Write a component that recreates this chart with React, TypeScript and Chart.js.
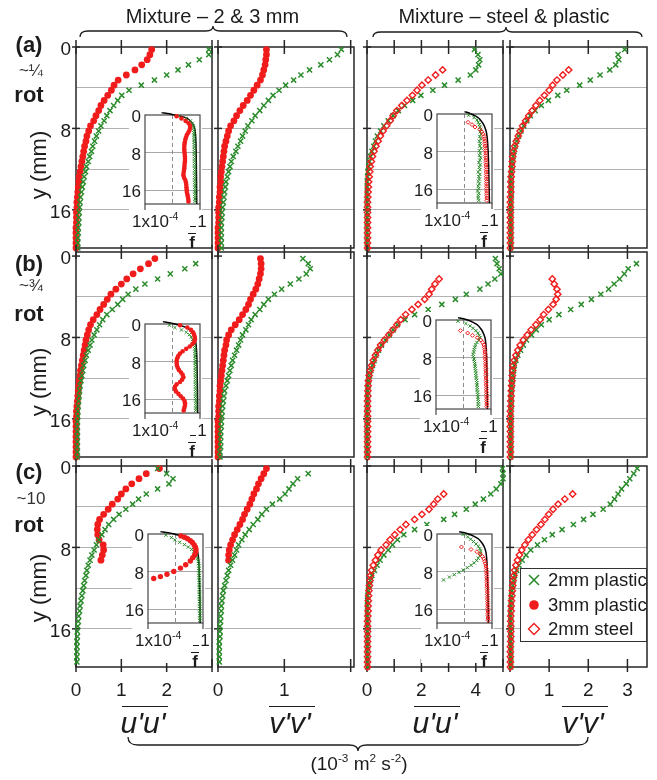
import React, { useEffect, useRef } from 'react';
import { Chart, registerables } from 'chart.js';

Chart.register(...registerables);

const FONT = '"Liberation Sans", Arial, Helvetica, sans-serif';
Chart.defaults.font.family = FONT;

const GREEN = '#2a8b2a';
const RED = '#f01c1c';
const GRID = '#b2b2b2';
const INK = '#1c1c1c';

// ---------------- categories / labels ----------------
const GROUP_TITLES = ['Mixture \u2013 2 & 3 mm', 'Mixture \u2013 steel & plastic'];
const ROW_LETTERS = ['(a)', '(b)', '(c)'];
const ROW_ROTATIONS = ['~\u00bc', '~\u00be', '~10'];
const COLUMN_QUANTITIES = ["u'u'", "v'v'", "u'u'", "v'v'"];
const LEGEND_LABELS = ['2mm plastic', '3mm plastic', '2mm steel'];
const Y_AXIS_TITLE = 'y (mm)';

// ---------------- ticks ----------------
const X_TICKS = [[0, 1, 2, 3], [0, 1, 2], [0, 1, 2, 3, 4, 5], [0, 1, 2, 3]];
const X_TICK_LABELS = [[0, 1, 2], [0, 1], [0, 2, 4], [0, 1, 2, 3]];
const X_MAX = [3.0, 2.05, 5.0, 3.5];
const Y_TICKS = [0, 4, 8, 12, 16];
const Y_TICK_LABELS = [0, 8, 16];
const INSET_X_TICKS = [1e-4, 1e-2, 1];

// ---------------- depths (mm) ----------------
const DEPTH_MM = [0.25, 0.75, 1.25, 1.75, 2.25, 2.75, 3.25, 3.75, 4.25, 4.75, 5.25, 5.75, 6.25, 6.75, 7.25, 7.75, 8.25, 8.75, 9.25, 9.75, 10.25, 10.75, 11.25, 11.75, 12.25, 12.75, 13.25, 13.75, 14.25, 14.75, 15.25, 15.75, 16.25, 16.75, 17.25, 17.75, 18.25, 18.75, 19.25, 19.75];
const INSET_DEPTH_MM = [0.25, 0.75, 1.25, 1.75, 2.25, 2.75, 3.25, 3.75, 4.25, 4.75, 5.25, 5.75, 6.25, 6.75, 7.25, 7.75, 8.25, 8.75, 9.25, 9.75, 10.25, 10.75, 11.25, 11.75, 12.25, 12.75, 13.25, 13.75, 14.25, 14.75, 15.25, 15.75, 16.25, 16.75, 17.25, 17.75, 18.25];
const THEORY_DEPTH_MM = [-0.5, -0.25, 0, 0.5, 1, 2, 3, 4, 6, 10, 14, 18.8];

// ---------------- main panels: row a (~1/4 rot) ----------------
const A1_P3 = [1.67, 1.63, 1.57, 1.45, 1.30, 1.11, 0.93, 0.84, 0.78, 0.70, 0.62, 0.55, 0.50, 0.44, 0.39, 0.32, 0.28, 0.24, 0.22, 0.19, 0.17, 0.15, 0.13, 0.11, 0.09, 0.07, 0.06, 0.05, 0.04, 0.03, 0.02, 0.02, 0.01, 0.01, 0.01, 0.00, 0.00, 0.00, 0.00, 0.00];
const A1_P2 = [2.93, 2.93, 2.72, 2.48, 2.25, 2.00, 1.73, 1.44, 1.17, 1.01, 0.92, 0.83, 0.75, 0.68, 0.62, 0.55, 0.50, 0.45, 0.41, 0.37, 0.34, 0.30, 0.27, 0.23, 0.21, 0.18, 0.16, 0.14, 0.12, 0.10, 0.09, 0.08, 0.07, 0.06, 0.06, 0.05, 0.05, 0.04, 0.04, 0.04];
const A2_P3 = [0.73, 0.73, 0.72, 0.71, 0.69, 0.67, 0.64, 0.59, 0.54, 0.49, 0.44, 0.38, 0.33, 0.28, 0.24, 0.19, 0.16, 0.14, 0.12, 0.10, 0.09, 0.08, 0.07, 0.06, 0.05, 0.04, 0.04, 0.03, 0.03, 0.02, 0.02, 0.01, 0.01, 0.01, 0.01, 0.00, 0.00, 0.00, 0.00, 0.00];
const A2_P2 = [1.86, 1.80, 1.68, 1.55, 1.38, 1.25, 1.14, 1.02, 0.92, 0.83, 0.76, 0.69, 0.63, 0.56, 0.51, 0.45, 0.41, 0.37, 0.34, 0.30, 0.27, 0.23, 0.20, 0.18, 0.16, 0.14, 0.12, 0.11, 0.10, 0.09, 0.08, 0.07, 0.06, 0.06, 0.05, 0.05, 0.05, 0.05, 0.05, 0.05];
const A3_S2 = [null, null, null, null, 2.78, 2.52, 2.25, 2.02, 1.84, 1.67, 1.47, 1.28, 1.10, 0.96, 0.85, 0.72, 0.59, 0.49, 0.41, 0.33, 0.26, 0.20, 0.16, 0.12, 0.10, 0.08, 0.06, 0.05, 0.04, 0.03, 0.02, 0.02, 0.02, 0.02, 0.02, 0.02, 0.02, 0.02, 0.02, 0.02];
const A3_P2 = [3.95, 4.08, 4.15, 4.10, 4.00, 3.80, 3.35, 2.85, 2.42, 1.98, 1.68, 1.38, 1.15, 0.96, 0.78, 0.62, 0.50, 0.38, 0.31, 0.25, 0.18, 0.13, 0.09, 0.06, 0.03, 0.02, 0.01, 0.01, 0.01, 0.01, 0.01, 0.01, 0.01, 0.01, 0.01, 0.01, 0.01, 0.01, 0.01, 0.01];
const A4_S2 = [null, null, null, null, 1.50, 1.35, 1.20, 1.09, 1.00, 0.88, 0.76, 0.66, 0.57, 0.48, 0.40, 0.32, 0.26, 0.21, 0.16, 0.12, 0.09, 0.07, 0.06, 0.05, 0.04, 0.03, 0.02, 0.02, 0.02, 0.01, 0.01, 0.01, 0.01, 0.01, 0.01, 0.01, 0.01, 0.01, 0.01, 0.01];
const A4_P2 = [2.93, 2.76, 2.78, 2.70, 2.55, 2.30, 2.05, 1.78, 1.45, 1.22, 0.98, 0.80, 0.64, 0.52, 0.43, 0.35, 0.28, 0.22, 0.17, 0.13, 0.10, 0.08, 0.06, 0.05, 0.04, 0.03, 0.03, 0.03, 0.03, 0.03, 0.02, 0.02, 0.02, 0.02, 0.02, 0.02, 0.02, 0.02, 0.02, 0.02];

// ---------------- row b (~3/4 rot) ----------------
const B1_P3 = [1.74, 1.60, 1.42, 1.26, 1.12, 1.00, 0.88, 0.77, 0.69, 0.61, 0.53, 0.46, 0.38, 0.32, 0.28, 0.25, 0.22, 0.20, 0.18, 0.16, 0.14, 0.12, 0.10, 0.09, 0.07, 0.06, 0.05, 0.04, 0.03, 0.02, 0.01, 0.01, 0.00, 0.00, 0.00, 0.00, 0.00, 0.00, 0.00, 0.00];
const B1_P2 = [null, 2.64, 2.40, 2.08, 1.80, 1.52, 1.32, 1.15, 1.03, 0.92, 0.80, 0.68, 0.59, 0.52, 0.46, 0.40, 0.35, 0.31, 0.27, 0.23, 0.20, 0.17, 0.15, 0.13, 0.11, 0.09, 0.08, 0.07, 0.06, 0.05, 0.04, 0.04, 0.03, 0.03, 0.03, 0.03, 0.03, 0.03, 0.03, 0.03];
const B2_P3 = [0.64, 0.65, 0.65, 0.64, 0.62, 0.60, 0.57, 0.53, 0.49, 0.46, 0.42, 0.37, 0.32, 0.26, 0.20, 0.16, 0.13, 0.12, 0.10, 0.09, 0.08, 0.07, 0.06, 0.05, 0.04, 0.03, 0.03, 0.02, 0.02, 0.01, 0.01, 0.01, 0.00, 0.00, 0.00, 0.00, 0.00, 0.00, 0.00, 0.00];
const B2_P2 = [1.28, 1.36, 1.39, 1.33, 1.22, 1.09, 0.96, 0.85, 0.76, 0.69, 0.63, 0.56, 0.50, 0.46, 0.42, 0.37, 0.34, 0.31, 0.28, 0.25, 0.22, 0.20, 0.18, 0.16, 0.14, 0.12, 0.10, 0.09, 0.08, 0.07, 0.06, 0.06, 0.05, 0.05, 0.04, 0.04, 0.04, 0.04, 0.03, 0.03];
const B3_S2 = [null, null, null, null, 2.65, 2.50, 2.38, 2.28, 2.12, 1.88, 1.65, 1.42, 1.24, 1.10, 0.95, 0.80, 0.64, 0.50, 0.40, 0.31, 0.23, 0.17, 0.12, 0.08, 0.05, 0.04, 0.03, 0.03, 0.02, 0.02, 0.02, 0.02, 0.02, 0.02, 0.02, 0.02, 0.02, 0.02, 0.02, 0.02];
const B3_P2 = [4.72, 4.78, 4.86, 4.92, 4.70, 4.45, 4.15, 3.65, 3.25, 2.75, 2.25, 1.75, 1.40, 1.12, 0.96, 0.82, 0.67, 0.53, 0.42, 0.33, 0.26, 0.20, 0.14, 0.09, 0.06, 0.04, 0.03, 0.02, 0.02, 0.02, 0.01, 0.01, 0.01, 0.01, 0.01, 0.01, 0.01, 0.01, 0.01, 0.01];
const B4_S2 = [null, null, null, null, 1.08, 1.13, 1.20, 1.22, 1.18, 1.10, 0.98, 0.86, 0.77, 0.66, 0.54, 0.44, 0.34, 0.26, 0.20, 0.15, 0.11, 0.08, 0.07, 0.06, 0.05, 0.04, 0.03, 0.03, 0.02, 0.02, 0.01, 0.01, 0.01, 0.01, 0.01, 0.01, 0.01, 0.01, 0.01, 0.01];
const B4_P2 = [null, 3.23, 3.02, 2.92, 2.80, 2.66, 2.52, 2.32, 2.08, 1.82, 1.55, 1.25, 1.00, 0.80, 0.67, 0.55, 0.42, 0.34, 0.27, 0.20, 0.15, 0.11, 0.09, 0.07, 0.06, 0.05, 0.04, 0.03, 0.03, 0.03, 0.02, 0.02, 0.02, 0.02, 0.02, 0.02, 0.02, 0.02, 0.02, 0.02];

// ---------------- row c (~10 rot) ----------------
const C1_P3 = [1.84, 1.55, 1.39, 1.23, 1.10, 1.00, 0.92, 0.80, 0.71, 0.61, 0.52, 0.48, 0.47, 0.48, 0.51, 0.60, 0.61, 0.58, 0.55];
const C1_P2 = [1.80, 2.00, 2.14, 2.05, 1.80, 1.55, 1.38, 1.25, 1.10, 0.95, 0.83, 0.72, 0.64, 0.57, 0.50, 0.45, 0.40, 0.35, 0.31, 0.27, 0.24, 0.22, 0.19, 0.17, 0.15, 0.13, 0.11, 0.09, 0.08, 0.06, 0.05, 0.04, 0.03, 0.03, 0.02, 0.02, 0.02, 0.02, 0.02];
const C2_P3 = [0.73, 0.69, 0.65, 0.61, 0.58, 0.54, 0.51, 0.48, 0.44, 0.40, 0.37, 0.33, 0.29, 0.25, 0.22, 0.19, 0.17, 0.16, 0.16];
const C2_P2 = [null, 1.36, 1.20, 1.13, 1.07, 1.01, 0.93, 0.82, 0.73, 0.66, 0.60, 0.53, 0.47, 0.41, 0.36, 0.31, 0.28, 0.25, 0.22, 0.19, 0.16, 0.14, 0.12, 0.10, 0.08, 0.07, 0.06, 0.05, 0.05, 0.04, 0.04, 0.03, 0.03, 0.03, 0.02, 0.02, 0.02, 0.02, 0.02];
const C3_S2 = [null, null, null, null, null, 2.82, 2.60, 2.45, 2.28, 2.02, 1.75, 1.43, 1.22, 1.02, 0.85, 0.70, 0.52, 0.40, 0.31, 0.23, 0.17, 0.13, 0.11, 0.09, 0.07, 0.06, 0.05, 0.04, 0.04, 0.03, 0.02, 0.02, 0.02, 0.02, 0.02, 0.02, 0.02, 0.02, 0.02, 0.02];
const C3_P2 = [4.98, 5.00, 5.00, 4.92, 4.75, 4.55, 4.28, 3.98, 3.65, 3.22, 2.82, 2.20, 1.75, 1.35, 1.12, 0.94, 0.78, 0.62, 0.48, 0.37, 0.27, 0.18, 0.12, 0.08, 0.05, 0.03, 0.02, 0.02, 0.02, 0.02, 0.02, 0.02, 0.02, 0.02, 0.02, 0.02, 0.02, 0.02, 0.02, 0.02];
const C4_S2 = [null, null, null, null, null, 1.60, 1.40, 1.23, 1.10, 0.99, 0.89, 0.79, 0.68, 0.57, 0.47, 0.38, 0.30, 0.24, 0.19, 0.15, 0.12, 0.10, 0.08, 0.07, 0.06, 0.05, 0.04, 0.03, 0.03, 0.02, 0.02, 0.02, 0.02, 0.02, 0.02, 0.01, 0.01, 0.01, 0.01, 0.01];
const C4_P2 = [3.25, 3.16, 3.06, 2.97, 2.85, 2.76, 2.67, 2.56, 2.38, 2.12, 1.88, 1.62, 1.33, 1.08, 0.88, 0.70, 0.53, 0.41, 0.31, 0.23, 0.17, 0.12, 0.09, 0.07, 0.05, 0.04, 0.03, 0.03, 0.02, 0.02, 0.02, 0.02, 0.02, 0.02, 0.02, 0.02, 0.02, 0.02, 0.02, 0.02];

// ---------------- insets: volume fraction f (log axis) ----------------
const IN_A1_P3 = [0.02, 0.045, 0.09, 0.15, 0.19, 0.19, 0.17, 0.14, 0.11, 0.095, 0.085, 0.078, 0.074, 0.072, 0.072, 0.074, 0.077, 0.08, 0.081, 0.08, 0.077, 0.074, 0.072, 0.068, 0.064, 0.062, 0.07, 0.085, 0.095, 0.1, 0.104, 0.107, 0.11, 0.12, 0.13, 0.14, 0.145];
const IN_A1_P2 = [0.03, 0.1, 0.2, 0.27, 0.31, 0.34, 0.35, 0.36, 0.37, 0.37, 0.38, 0.38, 0.38, 0.39, 0.39, 0.39, 0.39, 0.4, 0.4, 0.4, 0.4, 0.4, 0.41, 0.41, 0.41, 0.41, 0.41, 0.41, 0.42, 0.42, 0.42, 0.42, 0.42, 0.42, 0.43, 0.43, 0.43];
const IN_A3_S2 = [null, null, null, 0.018, 0.035, 0.058, 0.13, 0.18, 0.23, 0.26, 0.28, 0.3, 0.31, 0.32, 0.33, 0.34, 0.35, 0.35, 0.36, 0.36, 0.37, 0.37, 0.38, 0.38, 0.38, 0.39, 0.39, 0.39, 0.4, 0.4, 0.4, 0.41, 0.41, 0.41, 0.42, 0.42, 0.42];
const IN_A3_P2 = [0.02, 0.05, 0.08, 0.1, 0.12, 0.13, 0.15, 0.14, 0.16, 0.13, 0.15, 0.12, 0.14, 0.13, 0.16, 0.12, 0.14, 0.12, 0.15, 0.13, 0.11, 0.14, 0.12, 0.13, 0.1, 0.13, 0.11, 0.12, 0.1, 0.12, 0.1, 0.11, 0.09, 0.11, 0.1, 0.1, 0.11];
const IN_B1_P3 = [0.035, 0.12, 0.22, 0.31, 0.37, 0.42, 0.43, 0.38, 0.28, 0.18, 0.1, 0.055, 0.035, 0.026, 0.022, 0.02, 0.02, 0.021, 0.024, 0.03, 0.042, 0.055, 0.062, 0.05, 0.035, 0.02, 0.015, 0.015, 0.018, 0.027, 0.04, 0.058, 0.075, 0.082, 0.08, 0.072, 0.065];
const IN_B1_P2 = [0.006, 0.015, 0.045, 0.1, 0.17, 0.23, 0.29, 0.33, 0.37, 0.4, 0.42, 0.43, 0.44, 0.44, 0.45, 0.45, 0.45, 0.46, 0.46, 0.46, 0.46, 0.47, 0.47, 0.47, 0.47, 0.47, 0.48, 0.48, 0.48, 0.48, 0.48, 0.48, 0.49, 0.49, 0.49, 0.49, 0.49];
const IN_B3_S2 = [null, null, null, null, 0.006, 0.02, 0.045, 0.1, 0.18, 0.25, 0.3, 0.33, 0.35, 0.36, 0.37, 0.38, 0.39, 0.4, 0.4, 0.41, 0.42, 0.42, 0.43, 0.43, 0.44, 0.44, 0.45, 0.45, 0.46, 0.46, 0.47, 0.47, 0.48, 0.48, 0.48, 0.49, 0.49];
const IN_B3_P2 = [0.004, 0.015, 0.03, 0.05, 0.08, 0.11, 0.14, 0.16, 0.13, 0.095, 0.075, 0.065, 0.06, 0.055, 0.05, 0.052, 0.058, 0.062, 0.066, 0.07, 0.072, 0.075, 0.078, 0.08, 0.085, 0.09, 0.092, 0.095, 0.1, 0.1, 0.105, 0.11, 0.11, 0.115, 0.12, 0.12, 0.12];
const IN_C1_P3_DEPTH = [0.4, 0.7, 1.0, 1.4, 1.8, 2.3, 2.8, 3.3, 3.8, 4.4, 5.0, 5.7, 6.5, 7.2, 7.9, 8.5, 9.0, 9.4];
const IN_C1_P3 = [0.025, 0.045, 0.075, 0.12, 0.17, 0.23, 0.28, 0.31, 0.3, 0.25, 0.18, 0.12, 0.055, 0.023, 0.0075, 0.0024, 0.0008, 0.00026];
const IN_C1_P2 = [0.002, 0.005, 0.009, 0.02, 0.045, 0.085, 0.15, 0.21, 0.26, 0.33, 0.4, 0.46, 0.48, 0.5, 0.5, 0.51, 0.52, 0.52, 0.53, 0.53, 0.54, 0.54, 0.54, 0.55, 0.55, 0.55, 0.56, 0.56, 0.56, 0.57, 0.57, 0.57, 0.58, 0.58, 0.58, 0.59, 0.59];
const IN_C3_S2 = [null, null, null, null, null, 0.006, 0.03, 0.08, 0.14, 0.2, 0.25, 0.29, 0.33, 0.36, 0.38, 0.39, 0.4, 0.41, 0.42, 0.42, 0.43, 0.43, 0.44, 0.45, 0.46, 0.46, 0.47, 0.47, 0.48, 0.48, 0.49, 0.49, 0.5, 0.5, 0.51, 0.51, 0.52];
const IN_C3_P2_DEPTH = [0.1, 0.6, 1.1, 1.6, 2.1, 2.6, 3.1, 3.6, 4.1, 4.6, 5.1, 5.6, 6.1, 6.6, 7.1, 7.6, 8.1, 8.6, 9.1, 9.7];
const IN_C3_P2 = [0.008, 0.017, 0.028, 0.045, 0.07, 0.1, 0.13, 0.15, 0.14, 0.13, 0.1, 0.077, 0.05, 0.03, 0.016, 0.008, 0.004, 0.0018, 0.0008, 0.0003];

const TH_A1 = [0.0016, 0.006, 0.015, 0.08, 0.16, 0.32, 0.42, 0.47, 0.51, 0.54, 0.56, 0.58];
const TH_A3 = [0.01, 0.02, 0.03, 0.07, 0.12, 0.22, 0.32, 0.4, 0.48, 0.56, 0.6, 0.65];
const TH_B1 = [0.002, 0.006, 0.015, 0.06, 0.14, 0.3, 0.42, 0.5, 0.57, 0.62, 0.66, 0.68];
const TH_B3 = [0.004, 0.01, 0.02, 0.05, 0.1, 0.2, 0.3, 0.38, 0.45, 0.5, 0.53, 0.55];
const TH_C1 = [0.0008, 0.003, 0.008, 0.03, 0.07, 0.2, 0.33, 0.42, 0.5, 0.56, 0.6, 0.62];
const TH_C3 = [0.004, 0.01, 0.02, 0.05, 0.1, 0.2, 0.3, 0.37, 0.43, 0.48, 0.52, 0.55];

// ---------------- layout (positions, not data) ----------------
const COL_LEFT = [76, 218, 367, 510];
const COL_WIDTH = [136, 136, 136, 137];
const ROW_TOP = [47, 252, 466];
const ROW_HEIGHT = [201, 205, 201];
const ROW_YMIN = [0, -0.4, 0];
const Y_MAX = 19.75;
const INSET_W = 55;
const INSET_H = 89;
const INSET_YMAX = 18.8;

const MAIN_PANELS = [
  { row: 0, col: 0, p2: A1_P2, other: A1_P3, kind: 'p3' },
  { row: 0, col: 1, p2: A2_P2, other: A2_P3, kind: 'p3' },
  { row: 0, col: 2, p2: A3_P2, other: A3_S2, kind: 's2' },
  { row: 0, col: 3, p2: A4_P2, other: A4_S2, kind: 's2' },
  { row: 1, col: 0, p2: B1_P2, other: B1_P3, kind: 'p3' },
  { row: 1, col: 1, p2: B2_P2, other: B2_P3, kind: 'p3' },
  { row: 1, col: 2, p2: B3_P2, other: B3_S2, kind: 's2' },
  { row: 1, col: 3, p2: B4_P2, other: B4_S2, kind: 's2' },
  { row: 2, col: 0, p2: C1_P2, other: C1_P3, kind: 'p3' },
  { row: 2, col: 1, p2: C2_P2, other: C2_P3, kind: 'p3' },
  { row: 2, col: 2, p2: C3_P2, other: C3_S2, kind: 's2' },
  { row: 2, col: 3, p2: C4_P2, other: C4_S2, kind: 's2' },
];

const INSETS = [
  { left: 145, top: 115, kind: 'p3', other: IN_A1_P3, otherDepth: INSET_DEPTH_MM, p2: IN_A1_P2, p2Depth: INSET_DEPTH_MM, theory: TH_A1, big: false },
  { left: 437, top: 114, kind: 's2', other: IN_A3_S2, otherDepth: INSET_DEPTH_MM, p2: IN_A3_P2, p2Depth: INSET_DEPTH_MM, theory: TH_A3, big: false },
  { left: 145, top: 324, kind: 'p3', other: IN_B1_P3, otherDepth: INSET_DEPTH_MM, p2: IN_B1_P2, p2Depth: INSET_DEPTH_MM, theory: TH_B1, big: false },
  { left: 436, top: 320, kind: 's2', other: IN_B3_S2, otherDepth: INSET_DEPTH_MM, p2: IN_B3_P2, p2Depth: INSET_DEPTH_MM, theory: TH_B3, big: false },
  { left: 148, top: 534, kind: 'p3', other: IN_C1_P3, otherDepth: IN_C1_P3_DEPTH, p2: IN_C1_P2, p2Depth: INSET_DEPTH_MM, theory: TH_C1, big: true },
  { left: 437, top: 534, kind: 's2', other: IN_C3_S2, otherDepth: INSET_DEPTH_MM, p2: IN_C3_P2, p2Depth: IN_C3_P2_DEPTH, theory: TH_C3, big: false },
];

function toPoints(depths: number[], values: (number | null)[]) {
  const out: { x: number; y: number }[] = [];
  values.forEach((v, i) => {
    if (v !== null && v !== undefined) out.push({ x: v, y: depths[i] });
  });
  return out;
}

function line(ctx: any, x1: number, y1: number, x2: number, y2: number) {
  ctx.beginPath();
  ctx.moveTo(x1, y1);
  ctx.lineTo(x2, y2);
  ctx.stroke();
}

const framePlugin = {
  id: 'frame',
  beforeDraw(chart: any, _a: any, opts: any) {
    if (!opts.inset) return;
    const a = chart.chartArea;
    const ctx = chart.ctx;
    ctx.save();
    ctx.fillStyle = '#ffffff';
    ctx.fillRect(a.left - 16, a.top - 8, a.right - a.left + 18, a.bottom - a.top + 48);
    ctx.restore();
  },
  beforeDatasetsDraw(chart: any, _a: any, opts: any) {
    const { ctx, chartArea: a, scales } = chart;
    const xs = scales.x;
    const ys = scales.y;
    ctx.save();
    if (opts.inset) {
      const px = xs.getPixelForValue(1e-2);
      ctx.strokeStyle = '#8c8c8c';
      ctx.lineWidth = 1;
      ctx.setLineDash([4, 3]);
      line(ctx, px, a.top, px, a.bottom);
      ctx.setLineDash([]);
      ctx.strokeStyle = '#474747';
      ctx.lineWidth = 1.2;
      ctx.strokeRect(a.left, a.top, a.right - a.left, a.bottom - a.top);
      [1e-4, 1].forEach((v) => {
        const p = xs.getPixelForValue(v);
        line(ctx, p, a.bottom, p, a.bottom + 6);
      });
    } else {
      ctx.strokeStyle = '#262626';
      ctx.lineWidth = 1.5;
      ctx.strokeRect(a.left, a.top, a.right - a.left, a.bottom - a.top);
      xs.ticks.forEach((t: any) => {
        const p = xs.getPixelForValue(t.value);
        line(ctx, p, a.top - 7, p, a.top + 7);
        if (opts.bottomTicks) line(ctx, p, a.bottom - 8, p, a.bottom + 5);
      });
      Y_TICK_LABELS.forEach((v) => {
        const p = ys.getPixelForValue(v);
        line(ctx, a.left - 4, p, a.left + 4, p);
      });
    }
    ctx.restore();
  },
};

function plastic2(data: any, small = false) {
  return {
    label: LEGEND_LABELS[0], data, pointStyle: 'crossRot',
    pointRadius: small ? 2.3 : 3.6, pointBorderWidth: small ? 1 : 1.5,
    pointBorderColor: GREEN, pointBackgroundColor: GREEN, borderColor: GREEN, backgroundColor: GREEN,
    clip: false,
  };
}
function plastic3(data: any, r = 3.4) {
  return {
    label: LEGEND_LABELS[1], data, pointStyle: 'circle', pointRadius: r, pointBorderWidth: 0,
    pointBorderColor: RED, pointBackgroundColor: RED, borderColor: RED, backgroundColor: RED, clip: false,
  };
}
function steel2(data: any, small = false) {
  return {
    label: LEGEND_LABELS[2], data, pointStyle: 'rectRot', pointRadius: small ? 2 : 3.2,
    pointBorderWidth: small ? 1 : 1.4, pointBorderColor: RED, pointBackgroundColor: 'rgba(255,255,255,0)',
    borderColor: RED, backgroundColor: 'rgba(255,255,255,0)', clip: false,
  };
}

const PAD = 20;

function mainGeometry(p: any) {
  const yScaleW = p.col === 0 ? 45 : 0;
  const xScaleH = p.row === 2 ? 40 : 0;
  const left = COL_LEFT[p.col] - PAD - yScaleW;
  const top = ROW_TOP[p.row] - PAD;
  const width = COL_WIDTH[p.col] + 2 * PAD + yScaleW;
  const height = ROW_HEIGHT[p.row] + 2 * PAD + xScaleH;
  return { left, top, width, height, yScaleW, xScaleH };
}

function mainConfig(p: any): any {
  const g = mainGeometry(p);
  const datasets = p.kind === 'p3'
    ? [plastic2(toPoints(DEPTH_MM, p.p2)), plastic3(toPoints(DEPTH_MM, p.other))]
    : [steel2(toPoints(DEPTH_MM, p.other)), plastic2(toPoints(DEPTH_MM, p.p2))];
  return {
    type: 'scatter',
    data: { datasets },
    plugins: [framePlugin],
    options: {
      responsive: false,
      animation: false,
      events: [],
      layout: { padding: { left: PAD, right: PAD, top: PAD, bottom: PAD } },
      plugins: {
        legend: { display: false },
        tooltip: { enabled: false },
        frame: { inset: false, bottomTicks: p.row === 2 },
      },
      scales: {
        x: {
          type: 'linear', position: 'bottom', min: 0, max: X_MAX[p.col],
          afterBuildTicks: (s: any) => { s.ticks = X_TICKS[p.col].map((v) => ({ value: v })); },
          afterFit: (s: any) => { s.height = g.xScaleH; },
          grid: { display: false, drawTicks: false },
          border: { display: false },
          ticks: {
            display: p.row === 2, padding: 12, maxRotation: 0, autoSkip: false, color: INK,
            font: { family: FONT, size: 19 },
            callback: (v: any) => (X_TICK_LABELS[p.col].includes(v) ? String(v) : ''),
          },
        },
        y: {
          type: 'linear', position: 'left', reverse: true, min: ROW_YMIN[p.row], max: Y_MAX,
          afterBuildTicks: (s: any) => { s.ticks = Y_TICKS.map((v) => ({ value: v })); },
          afterFit: (s: any) => { s.width = g.yScaleW; },
          grid: {
            drawTicks: false, lineWidth: 1,
            color: (c: any) => (c.tick && c.tick.value === 0 ? 'rgba(0,0,0,0)' : GRID),
          },
          border: { display: false },
          ticks: {
            display: p.col === 0, padding: 5, labelOffset: 3, color: INK,
            font: { family: FONT, size: 19 },
            callback: (v: any) => (Y_TICK_LABELS.includes(v) ? String(v) : ''),
          },
        },
      },
    },
  };
}

function insetGeometry(s: any) {
  return { left: s.left - PAD - 22, top: s.top - PAD, width: INSET_W + 2 * PAD + 22, height: INSET_H + PAD + 50 };
}

function insetConfig(s: any): any {
  const other = s.kind === 'p3'
    ? plastic3(toPoints(s.otherDepth, s.other), s.big ? 2.7 : 2.3)
    : steel2(toPoints(s.otherDepth, s.other), true);
  const theory = {
    label: 'model', data: toPoints(THEORY_DEPTH_MM, s.theory), showLine: true, pointRadius: 0,
    borderColor: '#000', borderWidth: 1.5, tension: 0.3, clip: false,
  };
  return {
    type: 'scatter',
    data: { datasets: [other, plastic2(toPoints(s.p2Depth, s.p2), true), theory] },
    plugins: [framePlugin],
    options: {
      responsive: false,
      animation: false,
      events: [],
      layout: { padding: { left: PAD, right: PAD, top: PAD, bottom: 50 } },
      plugins: { legend: { display: false }, tooltip: { enabled: false }, frame: { inset: true } },
      scales: {
        x: {
          type: 'logarithmic', position: 'bottom', min: 1e-4, max: 1,
          afterBuildTicks: (sc: any) => { sc.ticks = INSET_X_TICKS.map((v) => ({ value: v })); },
          afterFit: (sc: any) => { sc.height = 0; },
          grid: { display: false, drawTicks: false },
          border: { display: false },
          ticks: { display: false },
        },
        y: {
          type: 'linear', position: 'left', reverse: true, min: 0, max: INSET_YMAX,
          afterBuildTicks: (sc: any) => { sc.ticks = Y_TICKS.map((v) => ({ value: v })); },
          afterFit: (sc: any) => { sc.width = 22; },
          grid: {
            drawTicks: false, lineWidth: 1,
            color: (c: any) => (c.tick && c.tick.value === 0 ? 'rgba(0,0,0,0)' : '#a8a8a8'),
          },
          border: { display: false },
          ticks: {
            display: true, padding: 4, labelOffset: 2, color: INK,
            font: { family: FONT, size: 17 },
            callback: (v: any) => (Y_TICK_LABELS.includes(v) ? String(v) : ''),
          },
        },
      },
    },
  };
}

function ChartCanvas({ geom, make, z }: any) {
  const ref = useRef<HTMLCanvasElement>(null);
  useEffect(() => {
    const chart = new Chart(ref.current as HTMLCanvasElement, make());
    return () => chart.destroy();
  }, []);
  return (
    <canvas
      ref={ref}
      width={geom.width}
      height={geom.height}
      style={{ position: 'absolute', left: geom.left, top: geom.top, width: geom.width, height: geom.height, zIndex: z }}
    />
  );
}

function Txt({ x, y, size, bold, italic, rotate, children, color, anchor }: any) {
  const tx = anchor === 'left' ? '0' : '-50%';
  return (
    <div
      style={{
        position: 'absolute', left: x, top: y,
        transform: `translate(${tx}, -50%)${rotate ? ' rotate(-90deg)' : ''}`,
        fontFamily: FONT, fontSize: size, fontWeight: bold ? 700 : 400, fontStyle: italic ? 'italic' : 'normal',
        lineHeight: 1, whiteSpace: 'nowrap', color: color || INK, zIndex: 5,
      }}
    >
      {children}
    </div>
  );
}

function HLine({ x, y, w, t }: any) {
  return <div style={{ position: 'absolute', left: x, top: y, width: w, height: 0, borderTop: `${t || 1.5}px solid ${INK}`, zIndex: 5 }} />;
}

const sup = { fontSize: '0.62em', verticalAlign: '0.6em', lineHeight: 0 };

const ROW_TEXT_Y = [
  { letter: 45, rot: 70, word: 95, ytitle: 165 },
  { letter: 263.5, rot: 285, word: 314, ytitle: 382 },
  { letter: 472, rot: 498, word: 524.5, ytitle: 588 },
];
const QUANTITY_X = [143, 290, 435, 583];

export default function App() {
  return (
    <div style={{ position: 'fixed', left: 0, top: 0, width: 657, height: 780, overflow: 'hidden', background: '#fff' }}>
      {MAIN_PANELS.map((p, i) => (
        <ChartCanvas key={'m' + i} geom={mainGeometry(p)} make={() => mainConfig(p)} z={1} />
      ))}
      {INSETS.map((s, i) => (
        <ChartCanvas key={'i' + i} geom={insetGeometry(s)} make={() => insetConfig(s)} z={2} />
      ))}

      {INSETS.map((s, i) => {
        const R = s.left + INSET_W;
        const B = s.top + INSET_H;
        return (
          <React.Fragment key={'il' + i}>
            <Txt x={s.left - 13} y={B + 17} size={17} anchor="left">
              1x10<span style={sup}>-4</span>
            </Txt>
            <Txt x={R + 2} y={B + 17} size={17}>1</Txt>
            <HLine x={R - 10} y={B + 22} w={6} />
            <HLine x={R - 12} y={B + 29} w={8} />
            <Txt x={R - 8} y={B + 38} size={17} bold>f</Txt>
          </React.Fragment>
        );
      })}

      <Txt x={212.5} y={16} size={20}>{GROUP_TITLES[0]}</Txt>
      <Txt x={504} y={16} size={20}>{GROUP_TITLES[1]}</Txt>

      {ROW_TEXT_Y.map((r, i) => (
        <React.Fragment key={'r' + i}>
          <Txt x={29} y={r.letter} size={22} bold>{ROW_LETTERS[i]}</Txt>
          <Txt x={31} y={r.rot} size={17} color="#333">{ROW_ROTATIONS[i]}</Txt>
          <Txt x={29} y={r.word} size={22} bold>rot</Txt>
          <Txt x={39} y={r.ytitle} size={22} rotate>{Y_AXIS_TITLE}</Txt>
        </React.Fragment>
      ))}

      {COLUMN_QUANTITIES.map((q, i) => (
        <React.Fragment key={'q' + i}>
          <Txt x={QUANTITY_X[i]} y={722.5} size={30} italic>{q}</Txt>
          <HLine x={QUANTITY_X[i] - 21} y={706} w={46} t={1.6} />
        </React.Fragment>
      ))}

      <Txt x={359} y={763} size={19}>
        (10<span style={sup}>-3</span> m<span style={sup}>2</span> s<span style={sup}>-2</span>)
      </Txt>

      <svg width={657} height={780} style={{ position: 'absolute', left: 0, top: 0, zIndex: 4, pointerEvents: 'none' }}>
        <g fill="none" stroke={INK} strokeWidth={1.3}>
          <path d="M80,37 Q80,31 88,31 L206,31 Q213,31 213,26 Q213,31 220,31 L339,31 Q347,31 347,37" />
          <path d="M373,37 Q373,32 381,32 L499,32 Q506,32 506,27 Q506,32 513,32 L634,32 Q642,32 642,37" />
          <path d="M128,737 Q128,745 138,745 L349,745 Q358,745 358,751 Q358,745 367,745 L578,745 Q588,745 588,737" />
        </g>
      </svg>

      <div
        style={{
          position: 'absolute', left: 520, top: 568, width: 127, height: 74, boxSizing: 'border-box',
          border: '1.5px solid #333', background: '#fff', overflow: 'hidden', zIndex: 6,
        }}
      >
        {LEGEND_LABELS.map((lab, i) => (
          <div key={lab} style={{ position: 'absolute', left: 0, top: [11, 36, 60][i] - 10, height: 20, width: 200 }}>
            <svg width={16} height={16} style={{ position: 'absolute', left: 5, top: 2 }}>
              {i === 0 && (
                <g stroke={GREEN} strokeWidth={1.6}>
                  <line x1={3} y1={3} x2={13} y2={13} />
                  <line x1={13} y1={3} x2={3} y2={13} />
                </g>
              )}
              {i === 1 && <circle cx={8} cy={8} r={4.8} fill={RED} />}
              {i === 2 && <path d="M8,2.5 L13.5,8 L8,13.5 L2.5,8 Z" fill="none" stroke={RED} strokeWidth={1.4} />}
            </svg>
            <div style={{ position: 'absolute', left: 27, top: 0, fontFamily: FONT, fontSize: 18.5, lineHeight: '20px', color: INK, whiteSpace: 'nowrap' }}>
              {lab}
            </div>
          </div>
        ))}
      </div>
    </div>
  );
}
